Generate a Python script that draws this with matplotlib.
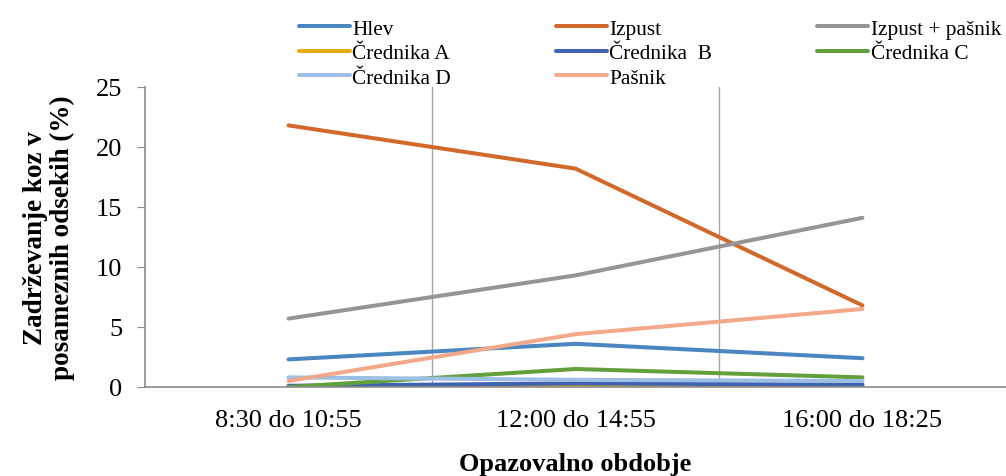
import matplotlib
matplotlib.use('Agg')
import matplotlib.pyplot as plt

plt.rcParams['font.family'] = ['Liberation Serif', 'DejaVu Serif']

# podatki
obdobja = ['8:30 do 10:55', '12:00 do 14:55', '16:00 do 18:25']
hlev = [2.3, 3.6, 2.4]
izpust = [21.8, 18.2, 6.8]
izpust_pasnik = [5.7, 9.3, 14.1]
crednika_a = [0.0, 0.1, 0.1]
crednika_b = [0.1, 0.3, 0.2]
crednika_c = [0.0, 1.5, 0.8]
crednika_d = [0.8, 0.6, 0.5]
pasnik = [0.5, 4.4, 6.5]

serije = [
    ('Hlev', hlev, '#4A86C0'),
    ('Izpust', izpust, '#D2692B'),
    ('Izpust + pašnik', izpust_pasnik, '#959595'),
    ('Črednika A', crednika_a, '#E5AD0A'),
    ('Črednika  B', crednika_b, '#3F63B1'),
    ('Črednika C', crednika_c, '#62A03E'),
    ('Črednika D', crednika_d, '#9DBFE6'),
    ('Pašnik', pasnik, '#F2A98B'),
]

fig = plt.figure(figsize=(10.06, 4.77), dpi=100)
ax = fig.add_axes([145 / 1006, (477 - 388) / 477, 861 / 1006, 300 / 477])

x = list(range(len(obdobja)))
crte = {}
for ime, vals, barva in serije:
    crte[ime], = ax.plot(x, vals, color=barva, lw=2.9, label=ime, solid_capstyle='round')

ax.set_xlim(-0.5, 2.5)
ax.set_ylim(0, 25)
ax.set_yticks([0, 5, 10, 15, 20, 25])
ax.set_xticks(x)
ax.set_xticklabels(obdobja)
# navpicne crte med kategorijami
for g in [0.5, 1.5]:
    ax.axvline(g, color='#A6A6A6', lw=1, zorder=0)

for s in ['top', 'right']:
    ax.spines[s].set_visible(False)
for s in ['left', 'bottom']:
    ax.spines[s].set_color('#8C8C8C')
    ax.spines[s].set_linewidth(1.2)
ax.tick_params(axis='y', length=5.8, color='#8C8C8C', labelsize=19, pad=10.5)
ax.tick_params(axis='x', length=0, labelsize=19, pad=16)

ax.set_ylabel('Zadrževanje koz v\nposameznih odsekih (%)', fontsize=19.5, fontweight='bold',
              labelpad=15, linespacing=1.08)
ax.set_xlabel('Opazovalno obdobje', fontsize=19, fontweight='bold', labelpad=15)

vrstni_red = ['Hlev', 'Črednika A', 'Črednika D', 'Izpust', 'Črednika  B', 'Pašnik', 'Izpust + pašnik', 'Črednika C']
fig.legend([crte[k] for k in vrstni_red], vrstni_red, ncol=3, loc='upper left',
           bbox_to_anchor=(286 / 1006, 1.0 - 7 / 477), frameon=False, fontsize=15.3,
           handlelength=2.4, handletextpad=0.12, columnspacing=4.93,
           labelspacing=0.22, borderaxespad=0.2)

fig.savefig('out.png', dpi=100)
